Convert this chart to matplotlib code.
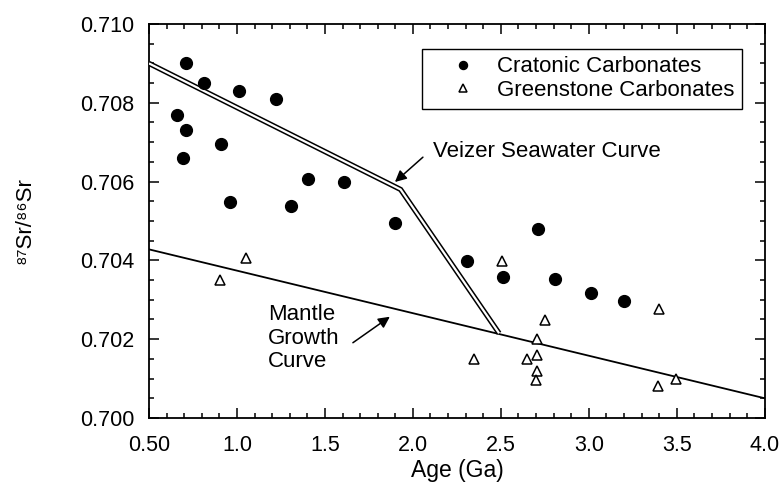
import matplotlib
matplotlib.use("Agg")
import matplotlib.pyplot as plt
from matplotlib.ticker import MultipleLocator, FixedLocator, FixedFormatter

plt.rcParams['font.family'] = ['Liberation Sans', 'DejaVu Sans']

# Cratonic carbonates (filled circles)
craton_age = [0.71, 0.81, 1.01, 1.22, 0.66, 0.71, 0.695, 0.91, 1.405, 1.61, 0.96, 1.31,
              1.90, 2.71, 2.305, 2.51, 2.81, 3.01, 3.20]
craton_sr = [0.7090, 0.7085, 0.7083, 0.7081, 0.7077, 0.7073, 0.7066, 0.70696, 0.70607, 0.70599,
             0.70549, 0.70538, 0.70496, 0.70480, 0.70398, 0.70357, 0.70353, 0.70316, 0.70297]

# Greenstone carbonates (open triangles)
green_age = [1.05, 0.905, 2.505, 3.40, 2.75, 2.705, 2.345, 2.648, 2.705, 2.705, 2.70, 3.495, 3.395]
green_sr = [0.70405, 0.70350, 0.70398, 0.70277, 0.70249, 0.70200, 0.70149, 0.70150, 0.70160,
            0.70118, 0.70096, 0.70098, 0.70081]

# Curves
mantle_age = [0.5, 4.0]
mantle_sr = [0.70428, 0.70050]
veizer_age = [0.5, 1.93, 2.49]
veizer_sr = [0.7090, 0.7058, 0.70215]

xtick_vals = [0.5, 1.0, 1.5, 2.0, 2.5, 3.0, 3.5, 4.0]
xtick_labels = ["0.50", "1.0", "1.5", "2.0", "2.5", "3.0", "3.5", "4.0"]
ytick_vals = [0.700, 0.702, 0.704, 0.706, 0.708, 0.710]
ytick_labels = ["0.700", "0.702", "0.704", "0.706", "0.708", "0.710"]

fig = plt.figure(figsize=(7.82, 4.96), dpi=100)
ax = fig.add_axes([0.1905, 0.1573, 0.7875, 0.7943])

# Mantle growth line
ax.plot(mantle_age, mantle_sr, color='black', lw=1.3, zorder=2)
# Veizer double line
ax.plot(veizer_age, veizer_sr, color='black', lw=3.8, solid_joinstyle='miter',
        solid_capstyle='butt', zorder=3)
ax.plot(veizer_age, veizer_sr, color='white', lw=1.6, solid_joinstyle='miter',
        solid_capstyle='butt', zorder=4)

ax.plot(craton_age, craton_sr, 'o', color='black', ms=8.5, ls='none', zorder=5,
        label='Cratonic Carbonates')
ax.plot(green_age, green_sr, '^', mfc='white', mec='black', mew=1.1, ms=7.5, ls='none',
        zorder=5, label='Greenstone Carbonates')

ax.set_xlim(0.5, 4.0)
ax.set_ylim(0.700, 0.710)
ax.xaxis.set_major_locator(FixedLocator(xtick_vals))
ax.xaxis.set_major_formatter(FixedFormatter(xtick_labels))
ax.yaxis.set_major_locator(FixedLocator(ytick_vals))
ax.yaxis.set_major_formatter(FixedFormatter(ytick_labels))
ax.xaxis.set_minor_locator(MultipleLocator(0.1))
ax.yaxis.set_minor_locator(MultipleLocator(0.0005))
ax.tick_params(which='both', direction='in', top=True, right=True, width=1.1)
ax.tick_params(which='major', length=7, labelsize=15.5)
ax.tick_params(axis='x', which='major', pad=12.5)
ax.tick_params(axis='y', which='major', pad=10.5)
ax.tick_params(which='minor', length=3.5)
for s in ax.spines.values():
    s.set_linewidth(1.3)

ax.set_xlabel('Age (Ga)', fontsize=16.5, labelpad=2)
ax.set_ylabel('\u2078\u2077Sr/\u2078\u2076Sr', fontsize=16)
ax.yaxis.set_label_coords(-0.185, 0.5)

leg = ax.legend(loc='upper left', bbox_to_anchor=(0.4432, 0.937), fontsize=16,
                frameon=True, fancybox=False, edgecolor='black', framealpha=1,
                handletextpad=0.05, borderpad=0.34, labelspacing=0.12,
                markerscale=0.68, handlelength=2.99, borderaxespad=0)
leg.get_frame().set_linewidth(1.0)

arrow_kw = dict(arrowstyle='-|>', color='black', lw=1.1, mutation_scale=17,
                shrinkA=0, shrinkB=0)

ax.text(2.114, 0.70663, 'Veizer Seawater Curve', fontsize=16, va='baseline', ha='left')
ax.annotate('', xy=(1.898, 0.70599), xytext=(2.057, 0.70662), arrowprops=arrow_kw)
ax.text(1.176, 0.70203, 'Mantle\nGrowth\nCurve', fontsize=16, va='center', ha='left',
        linespacing=1.16)
ax.annotate('', xy=(1.869, 0.70257), xytext=(1.659, 0.70191), arrowprops=arrow_kw)

fig.savefig('out.png', dpi=100)
